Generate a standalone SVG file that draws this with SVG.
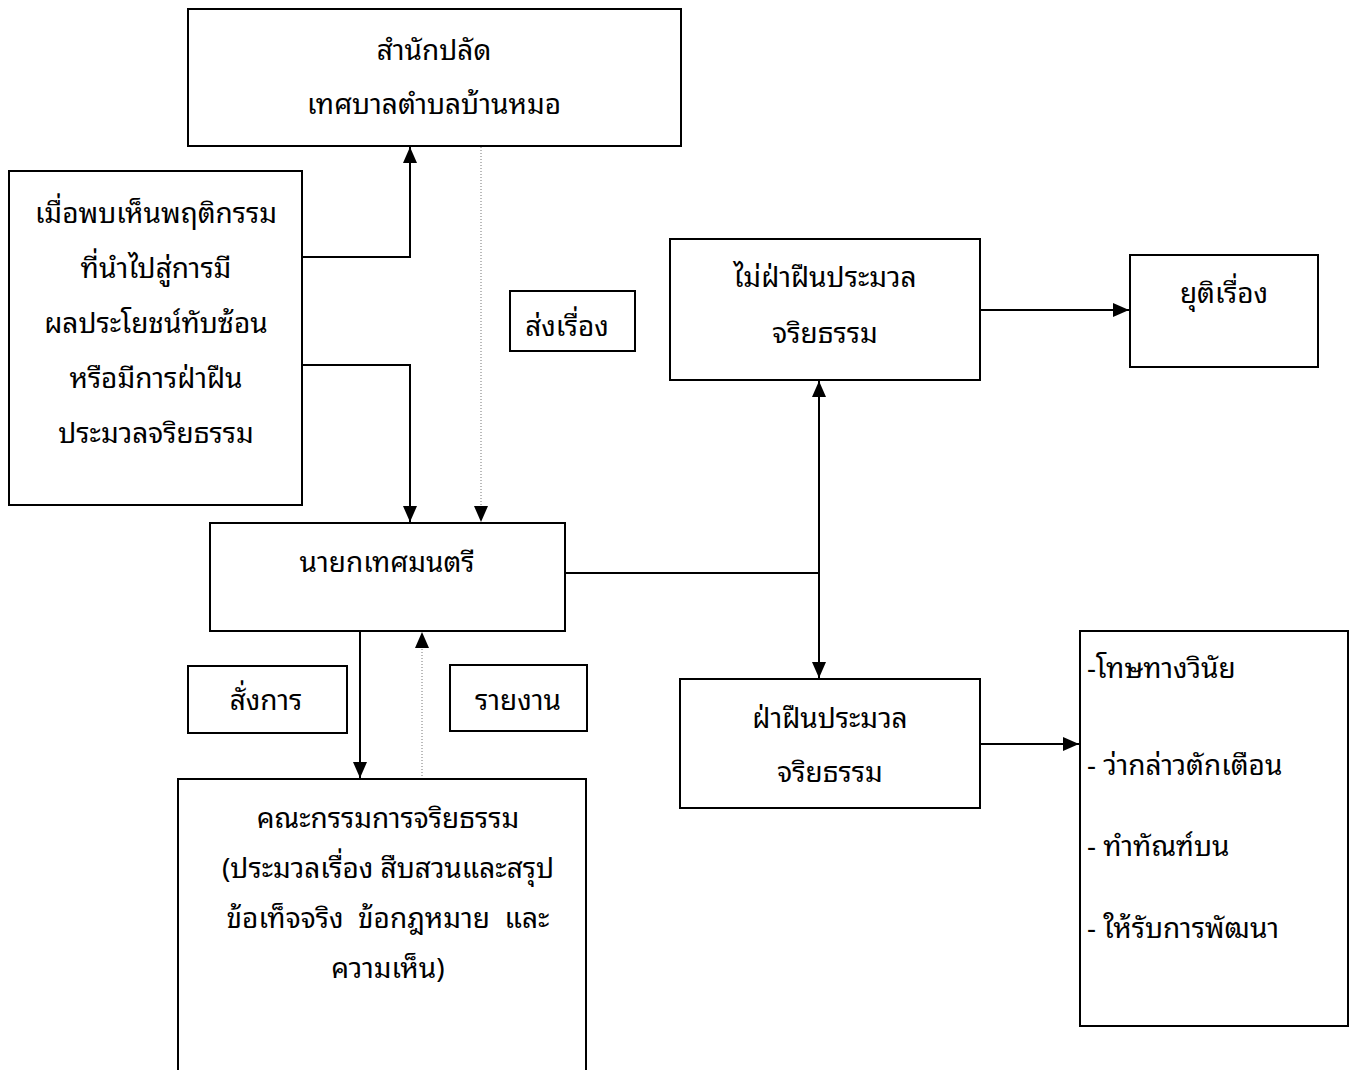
<svg xmlns="http://www.w3.org/2000/svg" width="1356" height="1070" viewBox="0 0 1356 1070">
<style>
.box{fill:#fff;stroke:#000;stroke-width:2}
.t{font-family:"Noto Sans Thai Looped","Loma","Garuda","Norasi","Noto Sans Thai","Noto Sans","DejaVu Sans",sans-serif;font-size:28px;fill:#000;text-anchor:middle;dominant-baseline:central}
.l{text-anchor:start}
.c{fill:none;stroke:#000;stroke-width:2}
.d{fill:none;stroke:#777;stroke-width:1;stroke-dasharray:1 2}
</style>
<defs>
<marker id="a" viewBox="0 0 16 14" refX="16" refY="7" markerWidth="16" markerHeight="14" markerUnits="userSpaceOnUse" orient="auto">
<path d="M0,0 L16,7 L0,14 z" fill="#000"/>
</marker>
</defs>
<rect width="1356" height="1070" fill="#fff"/>
<g id="connectors">
<path class="c" d="M302,257 H410 V147" marker-end="url(#a)"/>
<path class="c" d="M302,365 H410 V522" marker-end="url(#a)"/>
<path class="d" d="M481,147 V522" marker-end="url(#a)"/>
<path class="c" d="M360,631 V778" marker-end="url(#a)"/>
<path class="d" d="M422,779 V632" marker-end="url(#a)"/>
<path class="c" d="M565,573 H819"/>
<path class="c" d="M819,573 V381" marker-end="url(#a)"/>
<path class="c" d="M819,573 V678" marker-end="url(#a)"/>
<path class="c" d="M980,310 H1129" marker-end="url(#a)"/>
<path class="c" d="M980,744 H1079" marker-end="url(#a)"/>
</g>
<g id="office">
<rect class="box" x="188" y="9" width="493" height="137"/>
<text class="t" x="434" y="47">สำนักปลัด</text>
<text class="t" x="434" y="101">เทศบาลตำบลบ้านหมอ</text>
</g>
<g id="observe">
<rect class="box" x="9" y="171" width="293" height="334"/>
<text class="t" x="156" y="210">เมื่อพบเห็นพฤติกรรม</text>
<text class="t" x="156" y="265">ที่นำไปสู่การมี</text>
<text class="t" x="156" y="320">ผลประโยชน์ทับซ้อน</text>
<text class="t" x="156" y="375">หรือมีการฝ่าฝืน</text>
<text class="t" x="156" y="430">ประมวลจริยธรรม</text>
</g>
<g id="send">
<rect class="box" x="510" y="291" width="125" height="60"/>
<text class="t" x="567" y="323">ส่งเรื่อง</text>
</g>
<g id="mayor">
<rect class="box" x="210" y="523" width="355" height="108"/>
<text class="t" x="387" y="559">นายกเทศมนตรี</text>
</g>
<g id="order">
<rect class="box" x="188" y="666" width="159" height="67"/>
<text class="t" x="266" y="697">สั่งการ</text>
</g>
<g id="report">
<rect class="box" x="450" y="665" width="137" height="66"/>
<text class="t" x="518" y="697">รายงาน</text>
</g>
<g id="committee">
<path class="c" d="M178,1070 V779 H586 V1070"/>
<text class="t" x="388" y="815">คณะกรรมการจริยธรรม</text>
<text class="t" x="388" y="865">(ประมวลเรื่อง สืบสวนและสรุป</text>
<text class="t" x="388" y="915" xml:space="preserve">ข้อเท็จจริง  ข้อกฎหมาย  และ</text>
<text class="t" x="388" y="965">ความเห็น)</text>
</g>
<g id="noviolation">
<rect class="box" x="670" y="239" width="310" height="141"/>
<text class="t" x="825" y="274">ไม่ฝ่าฝืนประมวล</text>
<text class="t" x="825" y="330">จริยธรรม</text>
</g>
<g id="end">
<rect class="box" x="1130" y="255" width="188" height="112"/>
<text class="t" x="1224" y="290">ยุติเรื่อง</text>
</g>
<g id="violation">
<rect class="box" x="680" y="679" width="300" height="129"/>
<text class="t" x="830" y="715">ฝ่าฝืนประมวล</text>
<text class="t" x="830" y="769">จริยธรรม</text>
</g>
<g id="penalty">
<rect class="box" x="1080" y="631" width="268" height="395"/>
<text class="t l" x="1087" y="665">-โทษทางวินัย</text>
<text class="t l" x="1087" y="762">- ว่ากล่าวตักเตือน</text>
<text class="t l" x="1087" y="843">- ทำทัณฑ์บน</text>
<text class="t l" x="1087" y="925">- ให้รับการพัฒนา</text>
</g>
</svg>
